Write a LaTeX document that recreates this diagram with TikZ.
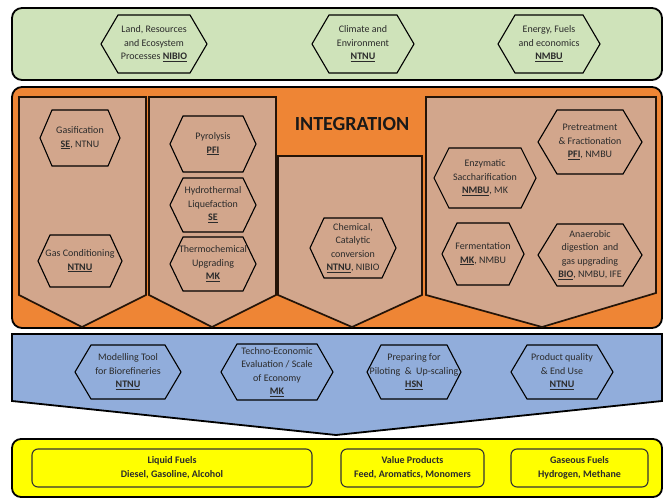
\documentclass[tikz,border=0pt]{standalone}
\usepackage{fontspec}
\setmainfont{Carlito}
\usetikzlibrary{calc}
\definecolor{greenbg}{HTML}{CFE3BA}
\definecolor{orangebg}{HTML}{EE8535}
\definecolor{tanbg}{HTML}{D2A68C}
\definecolor{bluebg}{HTML}{91ADDB}
\definecolor{yellowbg}{HTML}{FFFF00}
\definecolor{txt}{HTML}{2B2B2B}
\newcommand{\ulb}[1]{\underline{\textbf{#1}}}
\tikzset{
  outerbox/.style={draw=black, line width=1.8pt, rounded corners=10pt},
  panelbox/.style={draw=black!85!orangebg, line width=1.7pt, fill=tanbg, line join=miter},
  hexline/.style={draw=black, line width=1.1pt},
  hextext/.style={align=center, inner sep=0pt, text=txt, font=\fontsize{10}{13.5}\selectfont},
  prodbox/.style={draw=black!80, line width=1.1pt, rounded corners=6pt, fill=yellowbg},
  prodtext/.style={align=center, inner sep=0pt, text=txt, font=\fontsize{10}{14}\selectfont\bfseries},
  titletext/.style={inner sep=0pt, text=black!90, font=\fontsize{20}{24}\selectfont\bfseries}
}
% name, x, y, half width, half height, slant, text
\newcommand{\hexnode}[7]{%
  \draw[hexline] (#2-#4,#3) -- (#2-#4+#6,#3-#5) -- (#2+#4-#6,#3-#5) -- (#2+#4,#3)
     -- (#2+#4-#6,#3+#5) -- (#2-#4+#6,#3+#5) -- cycle;
  \node[hextext] (#1) at (#2,#3) {#7};
}
\begin{document}
\begin{tikzpicture}[x=1pt,y=-1pt]
\useasboundingbox (0,0) rectangle (668,503);
% green band
\draw[outerbox, fill=greenbg] (12,8) rectangle (662,80);
\hexnode{land}{154}{44}{53}{29}{17}{Land, Resources\\and Ecosystem\\Processes \ulb{NIBIO}}
\hexnode{climate}{363}{44}{51}{29}{17}{Climate and\\Environment\\\ulb{NTNU}}
\hexnode{energy}{549}{44}{51}{29}{17}{Energy, Fuels\\and economics\\\ulb{NMBU}}
% orange band
\draw[outerbox, fill=orangebg] (12,87) rectangle (662,328);
\draw[panelbox] (19,97) -- (146,97) -- (146,295) -- (82,327) -- (19,295) -- cycle;
\draw[panelbox] (149,97) -- (276,97) -- (276,295) -- (212,327) -- (149,295) -- cycle;
\draw[panelbox] (278,156) -- (422,156) -- (422,295) -- (352,327) -- (278,295) -- cycle;
\draw[panelbox] (426,97) -- (656,97) -- (656,293) -- (542,327) -- (426,295) -- cycle;
\node[titletext] (integ) at (352,124) {INTEGRATION};
\hexnode{gasif}{80}{138}{40}{28}{12}{Gasification\\\ulb{SE}, NTNU}
\hexnode{gascond}{80}{261}{42}{26}{12}{Gas Conditioning\\\ulb{NTNU}}
\hexnode{pyro}{213}{144}{43}{28}{13}{Pyrolysis\\\ulb{PFI}}
\hexnode{hydro}{213}{205}{43}{27}{13}{Hydrothermal\\Liquefaction\\\ulb{SE}}
\hexnode{thermo}{213}{264}{43}{27}{13}{Thermochemical\\Upgrading\\\ulb{MK}}
\hexnode{chem}{353}{248}{43}{30}{14}{Chemical,\\Catalytic\\conversion\\\ulb{NTNU}, NIBIO}
\hexnode{pretreat}{590}{142}{52}{32}{19}{Pretreatment\\\& Fractionation\\\ulb{PFI}, NMBU}
\hexnode{enzym}{485}{178}{51}{30}{15}{Enzymatic\\Saccharification\\\ulb{NMBU}, MK}
\hexnode{ferment}{483}{254}{41}{31}{15}{Fermentation\\\ulb{MK}, NMBU}
\hexnode{anaer}{590}{255}{52}{31}{19}{Anaerobic\\digestion\ \ and\\gas upgrading\\\ulb{BIO}, NMBU, IFE}
% blue band
\draw[draw=black, line width=1.8pt, fill=bluebg, line join=miter] (12,334) -- (662,334) -- (662,401) -- (336,435) -- (12,401) -- cycle;
\hexnode{model}{128}{372}{53}{27}{16}{Modelling Tool\\for Biorefineries\\\ulb{NTNU}}
\hexnode{techno}{277}{372}{56}{28}{16}{Techno-Economic\\Evaluation / Scale\\of Economy\\\ulb{MK}}
\hexnode{prep}{414}{372}{47}{27}{14}{Preparing for\\Piloting\ \ \&\ \ Up-scaling\\\ulb{HSN}}
\hexnode{quality}{562}{372}{51}{27}{16}{Product quality\\\& End Use\\\ulb{NTNU}}
% yellow band
\draw[outerbox, fill=yellowbg, rounded corners=9pt] (12,439) rectangle (662,497);
\draw[prodbox] (32,449) rectangle (312,487);
\node[prodtext] (liquid) at (172,468) {Liquid Fuels\\Diesel, Gasoline, Alcohol};
\draw[prodbox] (341,449) rectangle (484,487);
\node[prodtext] (value) at (412.5,468) {Value Products\\Feed, Aromatics, Monomers};
\draw[prodbox] (511,449) rectangle (648,487);
\node[prodtext] (gaseous) at (579.5,468) {Gaseous Fuels\\Hydrogen, Methane};
\end{tikzpicture}
\end{document}
